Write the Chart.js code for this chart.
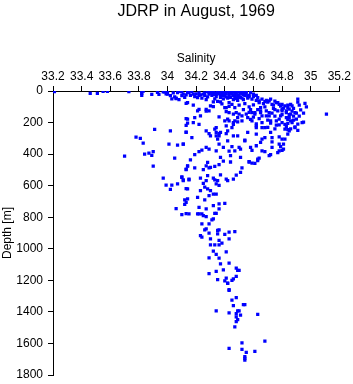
<!DOCTYPE html>
<html>
<head>
<meta charset="utf-8">
<title>JDRP in August, 1969</title>
<script src="https://cdn.jsdelivr.net/npm/chart.js@4/dist/chart.umd.min.js"></script>
<style>
  body { margin: 0; background: #fff; }
  canvas { display: block; }
</style>
</head>
<body>
<canvas id="chart" width="353" height="384"></canvas>
<script>
// [salinity, depth in m], grouped by depth band
const surfaceLayer = [
  [33.21, 4], [33.46, 15], [33.51, 15], [33.55, 2], [33.58, 2], [33.73, 4], [33.82, 5], [33.82, 15],
  [33.82, 28], [33.83, 0], [33.89, 21], [33.93, 8], [33.93, 0], [33.94, 21], [33.97, 5], [33.98, 6],
  [33.99, 18], [34.00, 20], [34.00, 2], [34.03, 50], [34.06, 48], [34.07, 10], [34.09, 3], [34.11, 20],
  [34.15, 8], [34.17, 3], [34.18, 20], [34.21, 42], [34.22, 12], [34.22, 27], [34.26, 12], [34.28, 3],
  [34.29, 20], [34.30, 5], [34.32, 2], [34.33, 12], [34.35, 4], [34.36, 18], [34.38, 2], [34.38, 25],
  [34.40, 8], [34.41, 15], [34.42, 3], [34.43, 28], [34.44, 10], [34.45, 20], [34.46, 5], [34.47, 35],
  [34.48, 12], [34.49, 25], [34.50, 6], [34.51, 40], [34.52, 18], [34.53, 8], [34.54, 30], [34.55, 15],
  [34.56, 45], [34.34, 35], [34.37, 40], [34.39, 50], [34.42, 45], [34.46, 55], [34.48, 48], [34.31, 28],
  [34.28, 38], [34.26, 30], [34.24, 45], [34.23, 25], [34.20, 18], [34.19, 35], [34.16, 28], [34.12, 40],
  [34.10, 30], [34.06, 45], [34.08, 55], [34.57, 27], [34.63, 42], [34.56, 32], [34.59, 52], [34.44, 11],
  [34.31, 15], [34.34, 22], [34.36, 8], [34.39, 30], [34.41, 38], [34.44, 40], [34.47, 22], [34.50, 30],
  [34.52, 45], [34.45, 0], [34.40, 0], [34.50, 0], [34.35, 0], [34.55, 0], [34.58, 10], [34.60, 20],
  [34.62, 28], [34.53, 55], [34.49, 60], [34.33, 50], [34.27, 55], [34.14, 10], [34.04, 12], [34.02, 30],
  [34.10, 5], [34.32, 22], [34.35, 14], [34.37, 30], [34.40, 22], [34.43, 14], [34.46, 30], [34.49, 40],
  [34.51, 12], [34.53, 22], [34.57, 38], [34.60, 35], [34.48, 0], [34.42, 0], [34.52, 2], [34.38, 10],
  [34.13, 25], [34.25, 20], [34.29, 10], [34.05, 38]
];

const upperLayer = [
  [34.13, 78], [34.13, 175], [34.14, 204], [34.13, 218], [34.18, 90], [34.27, 128], [34.32, 99], [34.35, 65],
  [34.40, 105], [34.43, 97], [34.41, 131], [34.47, 105], [34.50, 147], [34.53, 118], [34.64, 74], [34.60, 88],
  [34.57, 101], [34.65, 105], [34.69, 59], [34.72, 52], [34.73, 84], [34.77, 74], [34.80, 84], [34.84, 105],
  [34.87, 95], [34.91, 52], [34.91, 70], [34.96, 78], [35.11, 147], [34.95, 198], [34.89, 227], [34.82, 211],
  [34.78, 179], [34.85, 168], [34.83, 137], [34.80, 126], [34.72, 204], [34.76, 217], [34.68, 232], [34.62, 209],
  [34.46, 211], [34.45, 232], [34.40, 190], [34.41, 221], [34.36, 164], [34.34, 232], [34.19, 168], [34.18, 200],
  [34.14, 179], [34.23, 158], [34.22, 211], [34.42, 179], [34.43, 190], [34.47, 190], [34.49, 195], [34.46, 147],
  [34.43, 137], [34.48, 137], [34.52, 158], [34.55, 147], [34.59, 137], [34.58, 118], [34.61, 147], [34.65, 137],
  [34.69, 126], [34.71, 137], [34.75, 118], [34.66, 158], [34.71, 158], [34.59, 190], [34.66, 52], [34.71, 63],
  [34.76, 74], [34.86, 84], [34.94, 200], [34.89, 232], [34.82, 242], [34.90, 179], [34.86, 190], [34.83, 168],
  [34.86, 147], [34.89, 137], [34.80, 116], [34.77, 126], [34.79, 158], [34.83, 126], [34.76, 190], [34.72, 190],
  [34.69, 158], [34.65, 126], [34.61, 137], [34.56, 168], [34.52, 190], [34.49, 168], [34.46, 200], [34.62, 221],
  [34.62, 232], [34.66, 232], [34.30, 95], [34.29, 126], [34.41, 105], [34.22, 116], [34.21, 126], [34.27, 116],
  [34.14, 74], [34.32, 69], [34.37, 69], [34.43, 74], [34.62, 60], [34.67, 80], [34.70, 70], [34.74, 90],
  [34.78, 85], [34.82, 95], [34.85, 115], [34.88, 110], [34.92, 90], [34.93, 120], [34.88, 160], [34.84, 180],
  [34.80, 200], [34.87, 200], [34.91, 210], [34.86, 240], [34.83, 225], [34.78, 215], [34.75, 240], [34.70, 230],
  [34.66, 200], [34.64, 175], [34.60, 165], [34.58, 180], [34.97, 100], [34.95, 140], [34.92, 160], [34.68, 100],
  [34.74, 110], [34.80, 150], [34.75, 160], [34.70, 185], [34.91, 250], [34.84, 245], [33.91, 244], [34.02, 253],
  [34.13, 261], [34.64, 62], [34.68, 68], [34.75, 64], [34.79, 96], [34.84, 90], [34.81, 108], [34.87, 128],
  [34.90, 140], [34.85, 150], [34.88, 185], [34.84, 205], [34.73, 140], [34.63, 118], [34.57, 135], [34.54, 80],
  [34.50, 90], [34.45, 85], [34.38, 82]
];

const intermediateLayer = [
  [33.78, 292], [33.81, 301], [33.83, 331], [34.01, 337], [34.07, 343], [34.11, 337], [33.84, 400], [33.87, 394],
  [33.90, 385], [33.89, 408], [33.70, 413], [34.05, 425], [34.14, 476], [34.13, 499], [33.90, 476], [33.97, 552],
  [33.99, 596], [34.02, 623], [34.03, 596], [34.07, 588], [34.10, 545], [34.11, 568], [34.13, 619], [34.15, 564],
  [34.12, 690], [34.14, 684], [34.12, 718], [34.06, 745], [34.10, 783], [34.13, 777], [34.85, 253], [34.84, 274],
  [34.82, 305], [34.78, 291], [34.81, 337], [34.79, 352], [34.80, 377], [34.77, 390], [34.72, 263], [34.73, 295],
  [34.73, 322], [34.68, 295], [34.66, 305], [34.68, 385], [34.72, 404], [34.64, 425], [34.63, 442], [34.61, 459],
  [34.57, 448], [34.62, 347], [34.59, 377], [34.62, 274], [34.56, 263], [34.54, 312], [34.51, 368], [34.51, 421],
  [34.52, 488], [34.51, 516], [34.48, 533], [34.46, 558], [34.42, 568], [34.43, 381], [34.44, 450], [34.44, 410],
  [34.45, 352], [34.49, 284], [34.42, 253], [34.42, 316], [34.37, 263], [34.36, 284], [34.34, 284], [34.35, 305],
  [34.34, 263], [34.36, 337], [34.39, 358], [34.34, 379], [34.37, 421], [34.39, 444], [34.36, 467], [34.33, 478],
  [34.28, 453], [34.27, 474], [34.29, 488], [34.30, 484], [34.25, 499], [34.28, 537], [34.32, 552], [34.35, 568],
  [34.37, 531], [34.41, 558], [34.34, 589], [34.36, 598], [34.33, 564], [34.27, 568], [34.23, 552], [34.25, 585],
  [34.26, 610], [34.23, 632], [34.28, 621], [34.30, 632], [34.32, 653], [34.29, 663], [34.34, 653], [34.21, 674],
  [34.26, 690], [34.22, 737], [34.21, 779], [34.25, 790], [34.27, 747], [34.32, 726], [34.36, 716], [34.36, 747],
  [34.40, 712], [34.34, 775], [34.13, 706], [34.14, 621], [34.15, 558], [34.10, 547], [34.11, 564], [34.14, 474],
  [34.13, 495], [34.16, 436], [34.19, 488], [34.19, 404], [34.22, 385], [34.27, 358], [34.29, 368], [34.24, 374],
  [34.11, 337], [34.13, 263], [34.17, 295], [34.27, 253], [34.29, 270], [34.33, 242], [34.36, 270], [34.30, 284],
  [34.41, 270], [34.80, 305], [34.78, 337], [34.78, 379], [34.81, 368], [34.73, 358], [34.71, 410], [34.66, 379],
  [34.63, 432], [34.59, 457], [34.57, 450], [34.58, 358], [34.50, 358], [34.47, 379], [34.54, 316], [34.65, 326],
  [34.46, 284]
];

const deepLayer = [
  [34.32, 811], [34.24, 842], [34.29, 842], [34.27, 874], [34.36, 880], [34.15, 779], [34.22, 779], [34.24, 779],
  [34.27, 796], [34.33, 775], [34.31, 817], [34.26, 880], [34.23, 916], [34.24, 926], [34.29, 901], [34.35, 884],
  [34.35, 905], [34.40, 909], [34.43, 895], [34.47, 891], [34.30, 937], [34.43, 937], [34.36, 947], [34.30, 975],
  [34.33, 975], [34.36, 975], [34.38, 964], [34.32, 1015], [34.34, 1036], [34.36, 1059], [34.29, 1057], [34.41, 1019],
  [34.43, 1091], [34.37, 1095], [34.39, 1133], [34.29, 1158], [34.34, 1143], [34.35, 1196], [34.41, 1186], [34.40, 1204],
  [34.42, 1219], [34.45, 1200], [34.46, 1190], [34.48, 1122], [34.49, 1137], [34.50, 1137], [34.48, 1175], [34.43, 1259],
  [34.42, 1217], [34.43, 1263], [34.48, 1309], [34.45, 1326], [34.34, 1394], [34.46, 1360], [34.53, 1354], [34.54, 1354],
  [34.43, 1406], [34.48, 1411], [34.49, 1394], [34.50, 1394], [34.51, 1421], [34.48, 1432], [34.49, 1449], [34.48, 1461],
  [34.63, 1415], [34.47, 1495], [34.52, 1596], [34.68, 1585], [34.43, 1632], [34.52, 1638], [34.55, 1657], [34.61, 1651],
  [34.54, 1684], [34.54, 1695], [34.54, 1705]
];

const salinityRange = [33.2, 35.2];
const depthRange = [0, 1800];

function toPoints(layer) {
  return layer.map(function(p) {
    return {x: p[0], y: p[1]};
  });
}

const points = [].concat(
  toPoints(surfaceLayer),
  toPoints(upperLayer),
  toPoints(intermediateLayer),
  toPoints(deepLayer)
);

const font = {family: '"Liberation Sans", Arial, sans-serif', size: 12};

new Chart(document.getElementById('chart').getContext('2d'), {
  type: 'scatter',
  data: {
    datasets: [{
      data: points,
      pointStyle: 'rect',
      pointRadius: 2.3,
      pointBorderWidth: 0,
      backgroundColor: '#0000ff',
      borderColor: '#0000ff'
    }]
  },
  options: {
    responsive: false,
    animation: false,
    events: [],
    layout: {padding: {top: 2, right: 8, bottom: 0, left: 0}},
    plugins: {
      legend: {display: false},
      tooltip: {enabled: false},
      title: {
        display: true,
        fullSize: false,
        text: 'JDRP in August, 1969',
        color: '#000',
        font: {family: font.family, size: 16, weight: 'normal'},
        padding: {top: 0, bottom: 30}
      }
    },
    scales: {
      x: {
        type: 'linear',
        position: 'top',
        min: salinityRange[0],
        max: salinityRange[1],
        grid: {drawOnChartArea: false, drawTicks: true, tickLength: 5, color: '#000'},
        border: {display: true, color: '#000', width: 1},
        ticks: {
          stepSize: 0.2,
          color: '#000',
          font: font,
          padding: 2,
          autoSkip: false,
          maxRotation: 0,
          callback: function(v) { return String(Number(v.toFixed(1))); }
        },
        title: {display: true, text: 'Salinity', color: '#000', font: font, padding: {top: 0, bottom: 2}}
      },
      y: {
        type: 'linear',
        reverse: true,
        min: depthRange[0],
        max: depthRange[1],
        grid: {drawOnChartArea: false, drawTicks: true, tickLength: 5, color: '#000'},
        border: {display: true, color: '#000', width: 1},
        ticks: {
          stepSize: 200,
          color: '#000',
          font: font,
          padding: 5,
          autoSkip: false,
          callback: function(v) { return String(v); }
        },
        title: {display: true, text: 'Depth [m]', color: '#000', font: font, padding: {top: 0, bottom: 0}},
        afterFit: function(scale) {
          // pin the axis line at x=53 and let the plot reach the 1800 tick near the bottom edge
          scale.width = 53;
          scale.paddingBottom = 9;
        }
      }
    }
  }
});
</script>
</body>
</html>
